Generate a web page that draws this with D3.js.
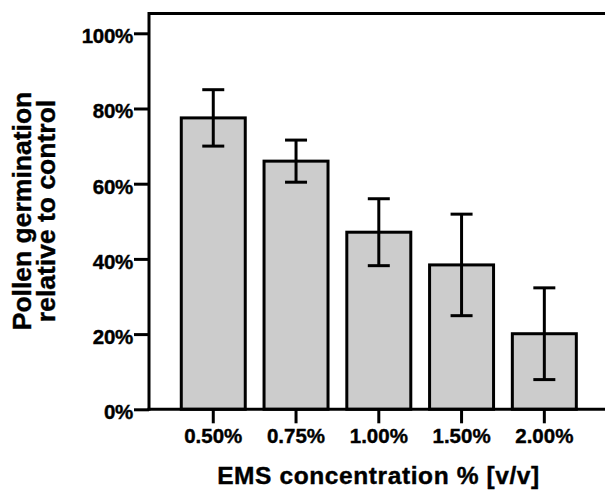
<!DOCTYPE html>
<html>
<head>
<meta charset="utf-8">
<script src="https://cdn.jsdelivr.net/npm/d3@7"></script>
<style>
  html, body { margin: 0; padding: 0; background: #fff; }
  svg { display: block; }
  text { font-family: "Liberation Sans", Arial, Helvetica, sans-serif; font-weight: bold; fill: #000; stroke: #000; stroke-width: 0.4px; }
</style>
</head>
<body>
<script>
// EMS treatment concentrations and pollen germination relative to control (%)
const concentrations = ["0.50%", "0.75%", "1.00%", "1.50%", "2.00%"];
const germination = [77.5, 66, 47.1, 38.4, 20.1];
const errors = [7.5, 5.6, 8.9, 13.5, 12.2];
const yTicks = [0, 20, 40, 60, 80, 100];

const W = 605, H = 491;
const plotLeft = 149, plotTop = 13.5, plotBottom = 409.3;

const svg = d3.select("body").append("svg").attr("width", W).attr("height", H);

const y = d3.scaleLinear().domain([0, 100]).range([plotBottom, 33.3]);
const x = d3.scaleBand().domain(concentrations)
  .range([plotLeft, 608.6]).paddingInner(0.227).paddingOuter(0.39);

// Bars
svg.append("g").selectAll("rect").data(concentrations).join("rect")
  .attr("x", d => x(d))
  .attr("y", (d, i) => y(germination[i]))
  .attr("width", x.bandwidth())
  .attr("height", (d, i) => plotBottom - y(germination[i]))
  .attr("fill", "#cccccc")
  .attr("stroke", "#000")
  .attr("stroke-width", 3);

// Error bars (mean ± error)
const eb = svg.append("g").attr("stroke", "#000").attr("stroke-width", 3).attr("fill", "none");
const cap = 11;
concentrations.forEach((c, i) => {
  const cx = x(c) + x.bandwidth() / 2;
  const hi = y(germination[i] + errors[i]);
  const lo = y(germination[i] - errors[i]);
  eb.append("line").attr("x1", cx).attr("x2", cx).attr("y1", hi).attr("y2", lo);
  eb.append("line").attr("x1", cx - cap).attr("x2", cx + cap).attr("y1", hi).attr("y2", hi);
  eb.append("line").attr("x1", cx - cap).attr("x2", cx + cap).attr("y1", lo).attr("y2", lo);
});

// Frame: top line
svg.append("line").attr("x1", plotLeft).attr("x2", W).attr("y1", plotTop).attr("y2", plotTop)
  .attr("stroke", "#000").attr("stroke-width", 3);

// Y axis
const yAxis = svg.append("g").attr("transform", `translate(${plotLeft},0)`)
  .call(d3.axisLeft(y).tickValues(yTicks).tickFormat(d => d + "%").tickSize(15).tickPadding(1));
yAxis.select(".domain").remove();
yAxis.selectAll(".tick line").attr("stroke", "#000").attr("stroke-width", 3);
yAxis.selectAll(".tick text").attr("font-size", 20.5).attr("letter-spacing", -0.3)
  .attr("dy", "0.46em");
svg.append("line").attr("x1", plotLeft).attr("x2", plotLeft).attr("y1", plotTop - 1.5).attr("y2", plotBottom + 1.5)
  .attr("stroke", "#000").attr("stroke-width", 3);

// X axis
const xAxis = svg.append("g").attr("transform", `translate(0,${plotBottom})`)
  .call(d3.axisBottom(x).tickSize(14).tickPadding(5));
xAxis.select(".domain").remove();
xAxis.selectAll(".tick line").attr("stroke", "#000").attr("stroke-width", 3);
xAxis.selectAll(".tick text").attr("font-size", 20.5).attr("letter-spacing", 0);
svg.append("line").attr("x1", plotLeft - 1.5).attr("x2", W).attr("y1", plotBottom).attr("y2", plotBottom)
  .attr("stroke", "#000").attr("stroke-width", 3);

// Axis titles
svg.append("text").attr("x", 378.5).attr("y", 484.3).attr("text-anchor", "middle")
  .attr("font-size", 24.5).attr("letter-spacing", 0.6)
  .text("EMS concentration % [v/v]");

const yt = svg.append("text").attr("transform", "translate(30.7,211) rotate(-90)")
  .attr("text-anchor", "middle").attr("font-size", 26.5).attr("letter-spacing", 0);
yt.append("tspan").attr("x", 0).attr("y", 0).text("Pollen germination");
yt.append("tspan").attr("x", 0).attr("y", 24.5).text("relative to control");
</script>
</body>
</html>
